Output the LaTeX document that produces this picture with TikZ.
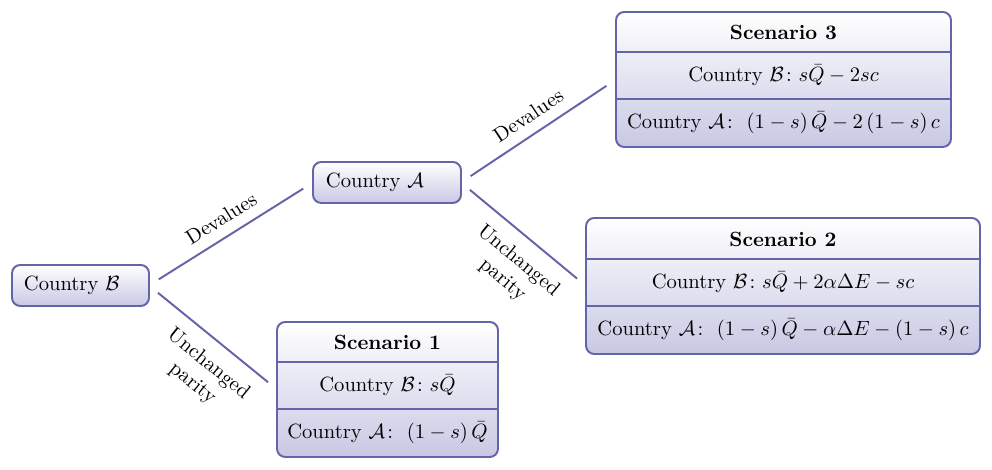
\documentclass[tikz,border=0pt]{standalone}
\usepackage{amsmath}
\usetikzlibrary{calc}
\definecolor{bd}{RGB}{100,100,168}
\definecolor{bt}{RGB}{200,200,228}
\newcommand\pxu{0.4854pt}
\begin{document}
\begin{tikzpicture}[x=0.4854pt,y=-0.4854pt,
  box/.style={draw=bd, line width=0.95pt, rounded corners=4pt, top color=white, bottom color=bt, outer sep=0pt},
  smallbox/.style={box, align=left, inner xsep=5.8pt, inner ysep=0pt, minimum height=41*\pxu},
  scen/.style={box, inner sep=0pt},
  div/.style={draw=bd, line width=0.95pt},
  link/.style={draw=bd, line width=0.95pt, shorten <=5.6pt, shorten >=5.6pt},
  lbl/.style={sloped, align=center}]
\useasboundingbox (0,0) rectangle (992,470);

% country nodes
\node[smallbox, text width=137*\pxu-11.6pt] (B) at (80.5,285.5) {Country $\mathcal{B}$};
\node[smallbox, text width=148*\pxu-12.6pt, inner xsep=6.3pt] (A) at (387,182.5) {Country $\mathcal{A}$};

% scenario 1
\node[scen, minimum width=221*\pxu, minimum height=135*\pxu] (S1) at (387.5,389.5) {};
\draw[div] ($(S1.north west)+(0,40)$) -- ($(S1.north east)+(0,40)$);
\draw[div] ($(S1.north west)+(0,87)$) -- ($(S1.north east)+(0,87)$);
\node (S1h) at ($(S1.north)+(0,20.5)$) {\textbf{Scenario 1}};
\node (S1b) at ($(S1.north)+(0,63.5)$) {Country $\mathcal{B}\colon s\bar{Q}$};
\node (S1a) at ($(S1.north)+(0,110.5)$) {Country $\mathcal{A}\colon\ (1-s)\,\bar{Q}$};

% scenario 2
\node[scen, minimum width=394*\pxu, minimum height=136*\pxu] (S2) at (783,286) {};
\draw[div] ($(S2.north west)+(0,41)$) -- ($(S2.north east)+(0,41)$);
\draw[div] ($(S2.north west)+(0,88)$) -- ($(S2.north east)+(0,88)$);
\node (S2h) at ($(S2.north)+(0,21)$) {\textbf{Scenario 2}};
\node (S2b) at ($(S2.north)+(0,64.5)$) {Country $\mathcal{B}\colon s\bar{Q}+2\alpha\Delta E-sc$};
\node (S2a) at ($(S2.north)+(0,111.5)$) {Country $\mathcal{A}\colon\ (1-s)\,\bar{Q}-\alpha\Delta E-(1-s)\,c$};

% scenario 3
\node[scen, minimum width=335*\pxu, minimum height=135*\pxu] (S3) at (783.5,79.5) {};
\draw[div] ($(S3.north west)+(0,40)$) -- ($(S3.north east)+(0,40)$);
\draw[div] ($(S3.north west)+(0,87)$) -- ($(S3.north east)+(0,87)$);
\node (S3h) at ($(S3.north)+(0,20.5)$) {\textbf{Scenario 3}};
\node (S3b) at ($(S3.north)+(0,63.5)$) {Country $\mathcal{B}\colon s\bar{Q}-2sc$};
\node (S3a) at ($(S3.north)+(0,110.5)$) {Country $\mathcal{A}\colon\ (1-s)\,\bar{Q}-2\,(1-s)\,c$};

% links
\draw[link] (B.east) -- node[lbl, above=1.7pt, midway] {Devalues} (A.west);
\draw[link] (B.east) -- node[lbl, below=3.3pt, pos=0.58] {Unchanged\\parity} (S1.west);
\draw[link] (A.east) -- node[lbl, above=1.7pt, midway] {Devalues} (S3.west);
\draw[link] (A.east) -- node[lbl, below=3.3pt, pos=0.58] {Unchanged\\parity} (S2.west);
\end{tikzpicture}
\end{document}
